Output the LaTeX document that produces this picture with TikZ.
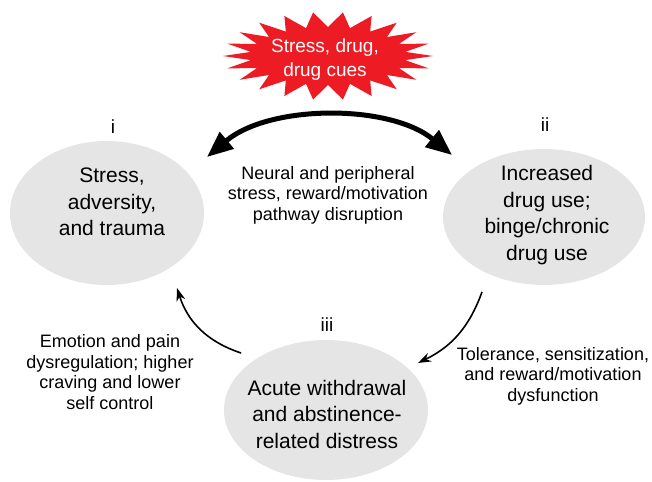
\documentclass[tikz,border=0pt]{standalone}
\usepackage{fontspec}
\setmainfont{Liberation Sans}
\usetikzlibrary{arrows.meta,shapes.geometric}
\definecolor{burstred}{RGB}{237,28,36}
\definecolor{ellgray}{RGB}{229,229,229}
\tikzset{
  stage/.style={ellipse, fill=ellgray, draw=none, inner sep=0pt},
  stagetext/.style={align=center, font=\fontsize{21}{26.5}\selectfont, inner sep=0pt},
  sidetext/.style={align=center, font=\fontsize{18}{20.5}\selectfont, inner sep=0pt},
  numlabel/.style={font=\fontsize{19}{22}\selectfont, inner sep=0pt},
  bursttext/.style={align=center, text=white, font=\fontsize{19}{24}\selectfont, inner sep=0pt},
  bigarrow/.style={line width=5pt, {Triangle[length=26pt,width=21pt]}-{Triangle[length=26pt,width=21pt]}},
  cyclearrow/.style={line width=1.6pt, -{Stealth[length=13pt,width=9pt]}}
}
\begin{document}
\begin{tikzpicture}[x=1pt,y=-1pt]
\useasboundingbox (0,0) rectangle (652,481);
% ellipses
\node[stage, minimum width=194pt, minimum height=144pt] (e1) at (107,213) {};
\node[stage, minimum width=202pt, minimum height=136pt] (e2) at (544,217) {};
\node[stage, minimum width=204pt, minimum height=140pt] (e3) at (326,410) {};
\node[stagetext] (t1) at (112,202) {Stress,\\adversity,\\and trauma};
\node[stagetext] (t2) at (547,215) {Increased\\drug use;\\binge/chronic\\drug use};
\node[stagetext] (t3) at (327,414) {Acute withdrawal\\and abstinence-\\related distress};
\node[numlabel] (n1) at (113,127) {i};
\node[numlabel] (n2) at (545,125) {ii};
\node[numlabel] (n3) at (327,325) {iii};
% starburst
\fill[burstred] (433,56) \foreach \k in {1,...,43} { -- ({328+(105-27*mod(\k,2))*cos(\k*360/44)}, {56+(44-15*mod(\k,2))*sin(\k*360/44)}) } -- cycle;
\node[bursttext] (burst) at (325,60) {Stress, drug,\\drug cues};
% big double arrow
\coordinate (bl) at (207,157);
\coordinate (br) at (452,155);
\draw[bigarrow] (bl) .. controls (270,104) and (390,104) .. (br);
\node[sidetext] (mid) at (328,195) {Neural and peripheral\\stress, reward/motivation\\pathway disruption};
% cycle arrows
\coordinate (la) at (241,353);
\coordinate (lb) at (177,288);
\draw[cyclearrow] (la) to[bend left=27] (lb);
\coordinate (ra) at (482,292);
\coordinate (rb) at (418,363);
\draw[cyclearrow] (ra) to[bend left=22] (rb);
\node[sidetext] (lt) at (110,372) {Emotion and pain\\dysregulation; higher\\craving and lower\\self control};
\node[sidetext] (rt) at (553,376) {Tolerance, sensitization,\\and reward/motivation\\dysfunction};
\end{tikzpicture}
\end{document}
